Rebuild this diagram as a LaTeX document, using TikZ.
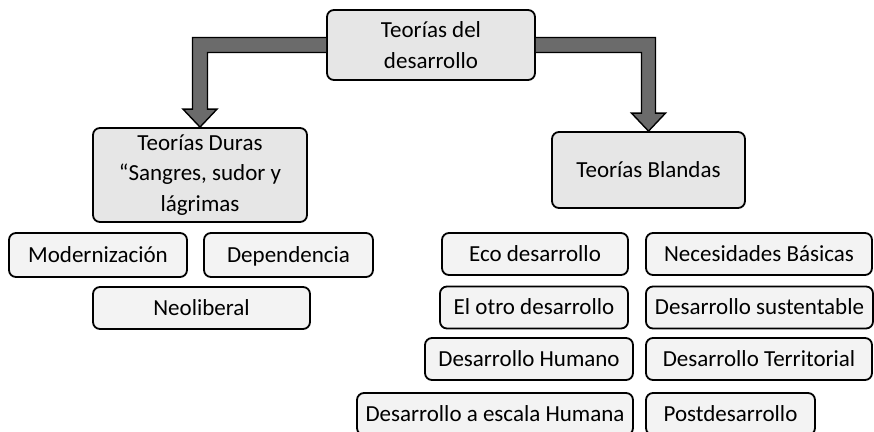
\documentclass[tikz,border=0pt]{standalone}
\usepackage{fontspec}
\setmainfont{Carlito}
\definecolor{grisclaro}{HTML}{E6E6E6}
\definecolor{grisblanco}{HTML}{F3F3F3}
\definecolor{grisflecha}{HTML}{6B6B6B}
\tikzset{
  caja/.style={draw,rounded corners=7pt,line width=1.8pt,fill=grisblanco,
    inner sep=0,align=center,minimum height=42pt,
    text height=16pt,text depth=2pt,
    font=\fontsize{23}{30.5}\selectfont},
  cajagris/.style={caja,fill=grisclaro,text height={},text depth={}},
  flecha/.style={draw=black,line width=1.4pt,fill=grisflecha,line join=miter}
}
\begin{document}
\begin{tikzpicture}[x=1pt,y=-1pt]
        \useasboundingbox (0,0) rectangle (874,431);
        % nivel superior
        \node[cajagris,minimum width=208pt,minimum height=70pt] (teorias) at (431,45) {Teorías del\\desarrollo};
        \node[cajagris,minimum width=214pt,minimum height=94pt] (duras) at (200,175) {Teorías Duras\\“Sangres, sudor y\\lágrimas};
        \node[cajagris,minimum width=193pt,minimum height=76pt] (blandas) at (648.5,170) {Teorías Blandas};
        % flechas
        \coordinate (esqizq) at (duras.north |- teorias.west);
        \coordinate (esqder) at (blandas.north |- teorias.east);
        \draw[flecha] ([yshift=7.5pt]teorias.west) -- ([shift={(-7.5pt,7.5pt)}]esqizq) -- ([shift={(-7.5pt,18pt)}]duras.north) -- ([shift={(-17pt,18pt)}]duras.north) -- (duras.north) -- ([shift={(17pt,18pt)}]duras.north) -- ([shift={(7.5pt,18pt)}]duras.north) -- ([shift={(7.5pt,-7.5pt)}]esqizq) -- ([yshift=-7.5pt]teorias.west);
        \draw[flecha] ([yshift=7.5pt]teorias.east) -- ([shift={(7pt,7.5pt)}]esqder) -- ([shift={(7pt,18pt)}]blandas.north) -- ([shift={(17pt,18pt)}]blandas.north) -- (blandas.north) -- ([shift={(-17pt,18pt)}]blandas.north) -- ([shift={(-7pt,18pt)}]blandas.north) -- ([shift={(-7pt,-7.5pt)}]esqder) -- ([yshift=-7.5pt]teorias.east);
        % teorias duras
        \node[caja,minimum width=178pt,minimum height=44pt] (moder) at (98,255) {Modernización};
        \node[caja,minimum width=169pt,minimum height=44pt] (depen) at (288.5,255) {Dependencia};
        \node[caja,minimum width=217pt] (neolib) at (201.5,308) {Neoliberal};
        % teorias blandas
        \node[caja,minimum width=186pt] (eco) at (535,254) {Eco desarrollo};
        \node[caja,minimum width=226pt] (necesid) at (759,254) {Necesidades Básicas};
        \node[caja,minimum width=188pt] (otro) at (534,307.5) {El otro desarrollo};
        \node[caja,minimum width=227pt] (susten) at (759.5,307.5) {Desarrollo sustentable};
        \node[caja,minimum width=208pt] (humano) at (529,359) {Desarrollo Humano};
        \node[caja,minimum width=226pt] (territ) at (759,359) {Desarrollo Territorial};
        \node[caja,minimum width=276pt] (escala) at (495,414) {Desarrollo a escala Humana};
        \node[caja,minimum width=169pt] (postd) at (730.5,414) {Postdesarrollo};
\end{tikzpicture}
\end{document}
